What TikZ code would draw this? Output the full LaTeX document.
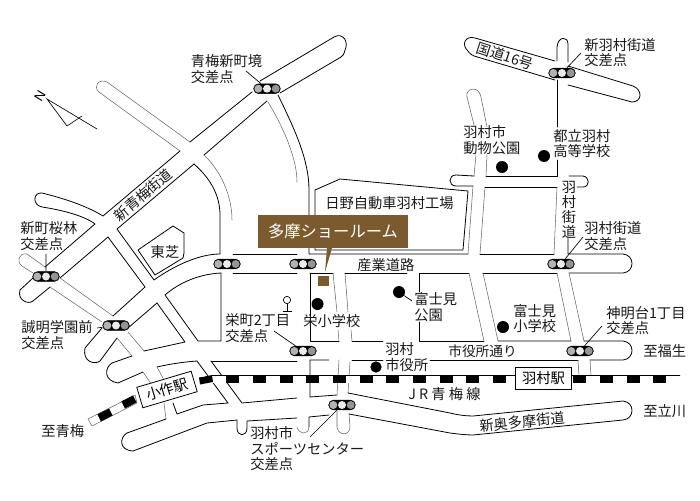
\documentclass[tikz,border=0pt]{standalone}
\usepackage{fontspec}
\setmainfont{Noto Sans CJK JP}
\newfontfamily\latinfont{Liberation Sans}
\definecolor{tmbrown}{HTML}{7C5A2F}
\tikzset{
  road/.style={draw=black,line width=.6pt,line join=round,line cap=round},
  lane/.style={draw=black!60,line width=.4pt,line join=round,line cap=round},
  leader/.style={draw=black,line width=.5pt},
  lbl/.style={font=\fontsize{10.7}{11.6}\selectfont,align=left,inner sep=0pt,anchor=west,text=black!90},
  lblc/.style={lbl,anchor=center,align=center},
  sigbody/.style={draw=black,fill=black,line width=.3pt,rectangle,rounded corners=3.6pt,minimum width=20pt,minimum height=7.4pt,inner sep=0pt},
  lamp/.style={circle,draw=none,minimum size=6pt,inner sep=0pt},
  spot/.style={circle,fill=black,draw=none,minimum size=9pt,inner sep=0pt},
  stationbox/.style={draw=black,fill=white,line width=.6pt,inner sep=0pt,minimum width=42.5pt,minimum height=16pt,font=\fontsize{10.7}{11.6}\selectfont},
  railblock/.style={fill=black,draw=none},
}
\newcommand{\tlight}[2]{%
  \node[sigbody] (#1) at (#2) {};
  \node[lamp,fill=black!30] (#1a) at ([xshift=-6.5pt]#1.center) {};
  \node[lamp,fill=black!8] (#1b) at (#1.center) {};
  \node[lamp,fill=black!42] (#1c) at ([xshift=6.5pt]#1.center) {};
}
\begin{document}
\begin{tikzpicture}[x=.75pt,y=-.75pt]
\useasboundingbox (0,0) rectangle (700,500);
\fill[white] (0,0) rectangle (700,500);

% Route 16 and Shin-Hamura road
\draw[road] (555,61) -- (475,38) .. controls (465,35) and (461,45) .. (468,51) .. controls (470,54) and (472,55) .. (474,56) -- (555,80);
\draw[road] (568,66) -- (633,86) .. controls (643,90) and (642,102) .. (632,102) -- (568,85);
\draw[road] (557,61) -- (557,47) .. controls (558,36) and (568,36) .. (568,44) -- (568,62);
\draw[road] (557,80) -- (557,127) (557,160) -- (557,176) -- (486,176);

% north park road
\draw[lane] (474,125) -- (467,97) .. controls (465,88) and (479,85) .. (481,97) -- (487,127);
\draw[lane] (476,155) -- (474,176) (487,155) -- (486,176);
\draw[road] (474,176) -- (456,175) .. controls (448,175) and (448,186) .. (456,186) -- (473,186);
\draw[road] (569,176) -- (583,176) .. controls (590,177) and (590,187) .. (583,187) -- (577,187);
\draw[road] (485,187) -- (557,187);
\draw[lane] (473,186) -- (468,254) (485,187) -- (480,254);
\draw[road] (480,254) -- (554,254);
\draw[lane] (557,187) -- (554,254);
\draw[road] (568,237) -- (568,254) -- (623,254) .. controls (635,255) and (635,272) .. (623,273) -- (569,273);
\draw[road] (557,273) -- (483,273);
\draw[road] (469,273) -- (419,273) -- (419,292) (419,322) -- (419,341) -- (484,341);
\draw[lane] (469,273) -- (484,341) (483,273) -- (498,341) (557,273) -- (571,341) (569,273) -- (584,341);
\draw[road] (498,341) -- (571,341) (584,341) -- (623,341) .. controls (635,342) and (635,359) .. (623,360) -- (590,360);
\draw[road] (578,360) -- (430,360) (383,360) -- (352,360);
\draw[lane] (590,360) -- (591,376) (578,360) -- (579,376);
\draw[road] (383,341) -- (352,341);

% Ome-shinmachi crossing and Shin-Ome road
\draw[road] (260,81) -- (334,37) .. controls (343,32) and (349,42) .. (345,50) .. controls (344,54) and (343,56) .. (341,57) -- (280,93);
\draw[road] (278,95) .. controls (295,130) and (309,160) .. (309,190) -- (309,254) -- (468,254);
\draw[road] (315,190) -- (340,179) -- (468,191) -- (463,250) -- (315,250) -- cycle;
\draw[lane] (268,102) .. controls (285,130) and (297,160) .. (297,182);
\draw[road] (252,92) -- (190,142);
\draw[lane] (190,142) -- (107,82) .. controls (98,78) and (93,87) .. (99,92) -- (180,151);
\draw[road] (180,151) -- (103,216) .. controls (85,205) and (62,198) .. (42,193) .. controls (33,192) and (32,205) .. (42,207) .. controls (62,210) and (85,216) .. (95,224) -- (45,267);
\draw[lane] (45,267) -- (27,254) .. controls (19,252) and (16,262) .. (22,266) -- (33,273);
\draw[road] (33,278) -- (20,290) .. controls (17,300) and (28,305) .. (33,301) -- (50,287);
\draw[lane] (50,287) -- (102,322);
\draw[road] (267,101) -- (204,155);
\draw[lane] (204,155) .. controls (220,170) and (232,195) .. (232,220);
\draw[road] (194,164) -- (117,229) -- (154,280) .. controls (175,265) and (200,254) .. (220,254);
\draw[road] (194,164) .. controls (210,178) and (220,195) .. (220,215) -- (220,254);
\draw[road] (108,237) -- (145,287) -- (113,316);
\draw[road] (108,237) -- (60,278);
\draw[lane] (60,278) -- (113,316);
\draw[road] (138,250) -- (173,226) -- (184,233) -- (184,253) -- (183,258) -- (155,275) -- cycle;
\draw[road] (233,254) -- (297,254) (233,273) -- (297,273);
\draw[road] (310,273) -- (310,341) -- (339,341) (310,273) -- (333,273);
\draw[lane] (333,273) -- (337,312) (338,330) -- (339,341);
\draw[lane] (345,273) -- (348,312) (351,330) -- (352,341);
\draw[road] (345,273) -- (407,273);

% lower-left blocks
\draw[road] (165,295) .. controls (180,282) and (200,274) .. (221,273) -- (221,341) -- (198,341) -- cycle;
\draw[road] (157,303) -- (128,328);
\draw[road] (157,303) -- (185,342) -- (144,351);
\draw[lane] (144,351) -- (128,332);
\draw[road] (102,328) -- (85,348) .. controls (82,362) and (95,365) .. (100,361) -- (117,338);
\draw[lane] (117,338) -- (132,356);
\draw[road] (132,356) -- (112,363) .. controls (104,368) and (104,381) .. (118,383) -- (143,372);
\draw[lane] (143,372) -- (152,385);
\draw[road] (197,361) .. controls (183,362) and (170,364) .. (157,367);
\draw[lane] (157,367) -- (164,380) (164,403) -- (166,419);
\draw[road] (197,361) -- (228,403);
\draw[road] (173,403) -- (177,414) -- (203,405) -- (228,403);
\draw[road] (166,419) -- (127,433) .. controls (120,437) and (118,450) .. (133,451) -- (207,423) -- (237,420) -- (237,428) .. controls (237,437) and (247,437) .. (247,428) -- (247,421) -- (297,418);
\draw[road] (211,361) -- (242,403) -- (297,398);
\draw[road] (211,361) -- (297,361);
\draw[road] (310,360) -- (310,397) -- (337,395) (310,360) -- (329,360);
\draw[lane] (339,360) -- (337,395);
\draw[lane] (297,427) .. controls (299,435) and (309,435) .. (309,427);
\draw[road] (309,427) -- (309,417) -- (329,415);
\draw[lane] (337,411) -- (337,427) .. controls (338,436) and (350,436) .. (350,427) -- (349,414);
\draw[lane] (350,362) -- (348,393);
\draw[road] (348,393) -- (450,413) .. controls (458,415) and (466,416) .. (473,416) -- (623,401) .. controls (635,402) and (635,419) .. (623,420) -- (473,435) .. controls (466,435) and (458,434) .. (450,433) -- (349,414);

% railway
\fill[white] (212,375) rectangle (680,383);
\draw[black,line width=.6pt] (205,377) -- (212,375.5) -- (680,375.5);
\foreach \bx in {226,253,279.5,306,333,359.5,386,413,439.5,466,493,573,600,627,653}
  \fill[railblock] (\bx,375) rectangle ++(13,8);
\fill[railblock] (199,377.5) -- (212,375.5) -- (213,382) -- (200,384.5) -- cycle;
\draw[lane,fill=white] (88,419) -- (135,395) -- (137,403) -- (92,426) -- cycle;
\fill[railblock] (97.4,414.4) -- (109,408.5) -- (112.6,415.5) -- (101,421.5) -- cycle;
\fill[railblock] (121.4,401.4) -- (133,395.5) -- (136.6,402.5) -- (125,408.5) -- cycle;
\node[stationbox,rotate=16.5] (kozuku) at (167,389.5) {小作駅};
\node[stationbox] (hamurast) at (543.5,378.5) {羽村駅};

% pole
\node[circle,draw=black,fill=white,line width=.5pt,minimum size=5.5pt,inner sep=0pt] (pole) at (287,300) {};
\coordinate (polebase) at (287,311);
\coordinate (baseL) at (282.5,311);
\coordinate (baseR) at (292,311);
\draw[leader] (pole) -- (polebase) (baseL) -- (baseR);

% north mark
\coordinate (ntip) at (47,99);
\coordinate (ntail) at (97,129);
\coordinate (nfoot) at (67,126);
\coordinate (nmid) at (82,116);
\draw[black,line width=.5pt] (ntail) -- (ntip) -- (nfoot) -- (nmid);
\node[font=\latinfont\fontsize{10}{10}\selectfont,rotate=59,inner sep=0pt] (north) at (40,96) {N};

% signals
\tlight{sigA}{267,88.7}
\tlight{sigB}{562,73}
\tlight{sigC}{561,264}
\tlight{sigD}{580,351}
\tlight{sigE}{46,276.5}
\tlight{sigF}{116,325.5}
\tlight{sigG}{227,264}
\tlight{sigH}{303,264}
\tlight{sigI}{303,351}
\tlight{sigJ}{342,405}

% spots
\node[spot] (d1) at (502,167) {};
\node[spot] (d2) at (544,156) {};
\node[spot] (d3) at (399,292) {};
\node[spot] (d4) at (503,327) {};
\node[spot] (d5) at (317.5,304) {};
\node[spot,minimum size=8.5pt] (d6) at (376,367) {};
\coordinate (d3end) at (412,301);
\draw[leader] (d3) -- (d3end);

% leaders
\coordinate (l1) at (246,71);
\coordinate (l2) at (581,53);
\coordinate (l3) at (583,237);
\coordinate (l4) at (602,326);
\coordinate (l5) at (46,254);
\coordinate (l6) at (97,328);
\coordinate (l7) at (274,331);
\coordinate (l8) at (310,437);
\draw[leader] (l1) -- (sigA) (l2) -- (sigB) (l3) -- (sigC) (l4) -- (sigD) (l5) -- (sigE) (l6) -- (sigF) (l7) -- (sigI) (l8) -- (sigJ);

% brown label
\node[fill=tmbrown,text=white,font=\fontsize{12.2}{13}\selectfont,minimum width=112.5pt,minimum height=24.75pt,inner sep=0pt] (tm) at (333,231.5) {多摩ショールーム};
\coordinate (pa) at (327,248);
\coordinate (pb) at (332,248);
\coordinate (pc) at (325,272);
\fill[tmbrown] (pa) -- (pb) -- (pc) -- cycle;
\fill[tmbrown] (318,276) rectangle (329,286);

% labels
\node[lbl] (t1) at (190.5,69) {青梅新町境\\交差点};
\node[lbl] (t2) at (584,52.5) {新羽村街道\\交差点};
\node[lblc,rotate=-18] (t3) at (505,56) {国道16号};
\node[lbl] (t4) at (463,140) {羽村市\\動物公園};
\node[lbl] (t5) at (553,143.5) {都立羽村\\高等学校};
\node[lbl] (t6) at (325,203) {日野自動車羽村工場};
\node[lblc,font=\fontsize{10.7}{11.2}\selectfont] (t7) at (569,209.5) {羽\\村\\街\\道};
\node[lbl] (t8) at (584,236) {羽村街道\\交差点};
\node[lblc,rotate=40] (t9) at (143,195) {新青梅街道};
\node[lblc] (t10) at (165,251.7) {東芝};
\node[lbl] (t11) at (20,236) {新町桜林\\交差点};
\node[lbl] (t12) at (357,265) {産業道路};
\node[lbl] (t13) at (414,307) {富士見\\公園};
\node[lbl] (t14) at (513,318.5) {富士見\\小学校};
\node[lbl] (t15) at (606,320.5) {神明台1丁目\\交差点};
\node[lbl] (t16) at (21,335) {誠明学園前\\交差点};
\node[lbl] (t17) at (225,328) {栄町2丁目\\交差点};
\node[lbl] (t18) at (303,321) {栄小学校};
\node[lbl] (t19) at (385,357) {羽村\\市役所};
\node[lbl,font=\fontsize{10.3}{11.6}\selectfont] (t20) at (448,351) {市役所通り};
\node[lbl] (t21) at (643,351) {至福生};
\node[lbl] (t22) at (408,394) {J R 青 梅 線};
\node[lbl] (t23) at (643,411) {至立川};
\node[lblc,rotate=6] (t24) at (522,422) {新奥多摩街道};
\node[lbl] (t25) at (41,431) {至青梅};
\node[lbl] (t26) at (250,449) {羽村市\\スポーツセンター\\交差点};
\end{tikzpicture}
\end{document}
